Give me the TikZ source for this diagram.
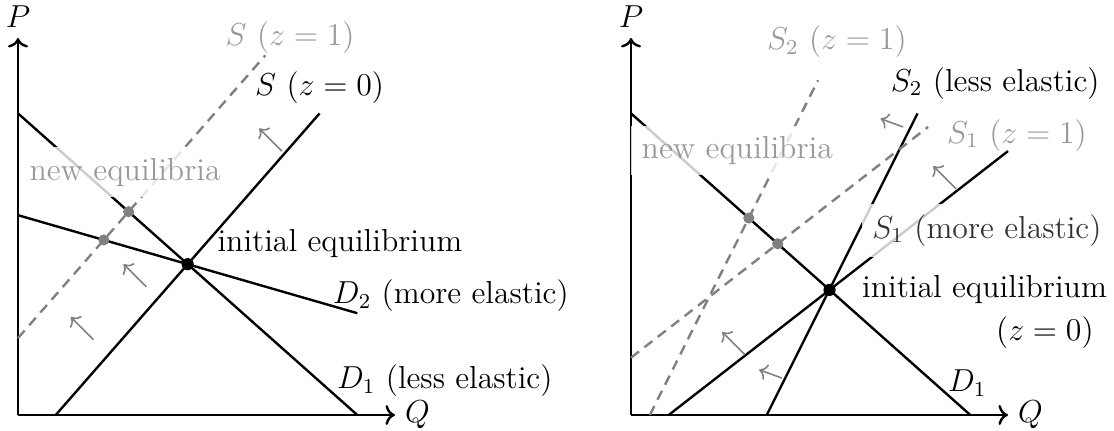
\documentclass[tikz,border=0pt]{standalone}
\usepackage{amsmath}
\usetikzlibrary{arrows.meta}
\definecolor{ecGray}{HTML}{808080}
\definecolor{ecText}{HTML}{999999}
\tikzset{
  axis/.style     ={->,line width=0.9pt,black},
  curve/.style    ={line width=0.9pt,black},
  shifted/.style  ={line width=0.9pt,dash pattern=on 3.8pt off 2.6pt,ecGray},
  shiftarr/.style ={->,semithick,ecGray},
  eqdot/.style    ={circle,fill=black,inner sep=0pt,minimum size=4.6pt},
  newdot/.style   ={circle,fill=ecGray,inner sep=0pt,minimum size=4.2pt},
  lbl/.style      ={font=\large,text=black},
  glbl/.style     ={lbl,text=ecText},
  veil/.style     ={fill=white,fill opacity=0.8,inner sep=4pt},
  gveil/.style    ={lbl,veil,text=ecGray},
}
\begin{document}
\begin{tikzpicture}
\useasboundingbox (-0.239,-0.212) rectangle (14.536,5.504);

%% left panel: two demand curves
\begin{scope}
\coordinate (LO) at (0,0);
\draw[axis] (LO) -- (0,5) node[lbl,above] (LP) {$P$};
\draw[axis] (LO) -- (5,0) node[lbl,right] (LQ) {$Q$};
\coordinate (Ld1a) at (0,4);    \coordinate (Ld1b) at (4.5,0);
\coordinate (Ld2a) at (0,2.65); \coordinate (Ld2b) at (4.5,1.35);
\coordinate (Ls0a) at (0.5,0);  \coordinate (Ls0b) at (4,4);
\coordinate (Ls1a) at (0,1.02); \coordinate (Ls1b) at (3.28,4.77);
\draw[curve] (Ld1a) -- (Ld1b);
\draw[curve] (Ld2a) -- (Ld2b);
\draw[curve] (Ls0a) -- (Ls0b);
\draw[shifted] (Ls1a) -- (Ls1b);
\foreach \t in {{1,1},{1.7,1.7},{3.5,3.5}}
  \draw[shiftarr] (\t) -- ++(-0.3,0.3);
\coordinate (LE)  at (intersection of Ld1a--Ld1b and Ls0a--Ls0b);
\coordinate (LN1) at (intersection of Ld1a--Ld1b and Ls1a--Ls1b);
\coordinate (LN2) at (intersection of Ld2a--Ld2b and Ls1a--Ls1b);
\node[eqdot]  (LEdot)  at (LE)  {};
\node[newdot] (LN1dot) at (LN1) {};
\node[newdot] (LN2dot) at (LN2) {};
\node[glbl] (LlblS1) at (3.61,5.01) {$S~(z=1)$};
\node[lbl]  (LlblS0) at (4.00,4.34) {$S~(z=0)$};
\node[gveil] (LlblNew) at (1.42,3.22) {new equilibria};
\node[lbl]  (LlblEq) at (4.27,2.28) {initial equilibrium};
\node[lbl]  (LlblD2) at (5.74,1.58) {$D_2$ (more elastic)};
\node[lbl]  (LlblD1) at (5.66,0.46) {$D_1$ (less elastic)};
\end{scope}

%% right panel: two supply curves
\begin{scope}[xshift=8.13cm]
\coordinate (RO) at (0,0);
\draw[axis] (RO) -- (0,5) node[lbl,above] (RP) {$P$};
\draw[axis] (RO) -- (5,0) node[lbl,right] (RQ) {$Q$};
\coordinate (Rd1a) at (0,4);     \coordinate (Rd1b) at (4.5,0);
\coordinate (Rs1a) at (0.5,0);   \coordinate (Rs1b) at (5,3.5);
\coordinate (Rs2a) at (1.8,0);   \coordinate (Rs2b) at (3.8,4);
\coordinate (Rt1a) at (0,0.76);  \coordinate (Rt1b) at (3.94,3.82);
\coordinate (Rt2a) at (0.25,0);  \coordinate (Rt2b) at (2.48,4.44);
\draw[curve] (Rd1a) -- (Rd1b);
\draw[curve] (Rs1a) -- (Rs1b);
\draw[curve] (Rs2a) -- (Rs2b);
\draw[shifted] (Rt1a) -- (Rt1b);
\draw[shifted] (Rt2a) -- (Rt2b);
\foreach \t in {{4.31,3.0},{1.51,0.8}}
  \draw[shiftarr] (\t) -- ++(-0.3,0.3);
\foreach \t in {{3.61,3.82},{2.0,0.49}}
  \draw[shiftarr] (\t) -- ++(-0.3,0.11);
\coordinate (RE)  at (intersection of Rd1a--Rd1b and Rs1a--Rs1b);
\coordinate (RN1) at (intersection of Rd1a--Rd1b and Rt2a--Rt2b);
\coordinate (RN2) at (intersection of Rd1a--Rd1b and Rt1a--Rt1b);
\node[eqdot]  (REdot)  at (RE)  {};
\node[newdot] (RN1dot) at (RN1) {};
\node[newdot] (RN2dot) at (RN2) {};
\node[glbl] (RlblT2) at (2.73,4.95) {$S_2~(z=1)$};
\node[lbl]  (RlblS2) at (4.83,4.40) {$S_2$ (less elastic)};
\node[glbl] (RlblT1) at (5.12,3.71) {$S_1~(z=1)$};
\node[gveil] (RlblNew) at (1.41,3.51) {new equilibria};
\node[lbl,veil]  (RlblS1) at (4.72,2.45) {$S_1$ (more elastic)};
\node[lbl]  (RlblEq) at (4.69,1.66) {initial equilibrium};
\node[lbl]  (RlblZ)  at (5.49,1.10) {$(z=0)$};
\node[lbl]  (RlblD1) at (4.46,0.42) {$D_1$};
\end{scope}
\end{tikzpicture}
\end{document}
